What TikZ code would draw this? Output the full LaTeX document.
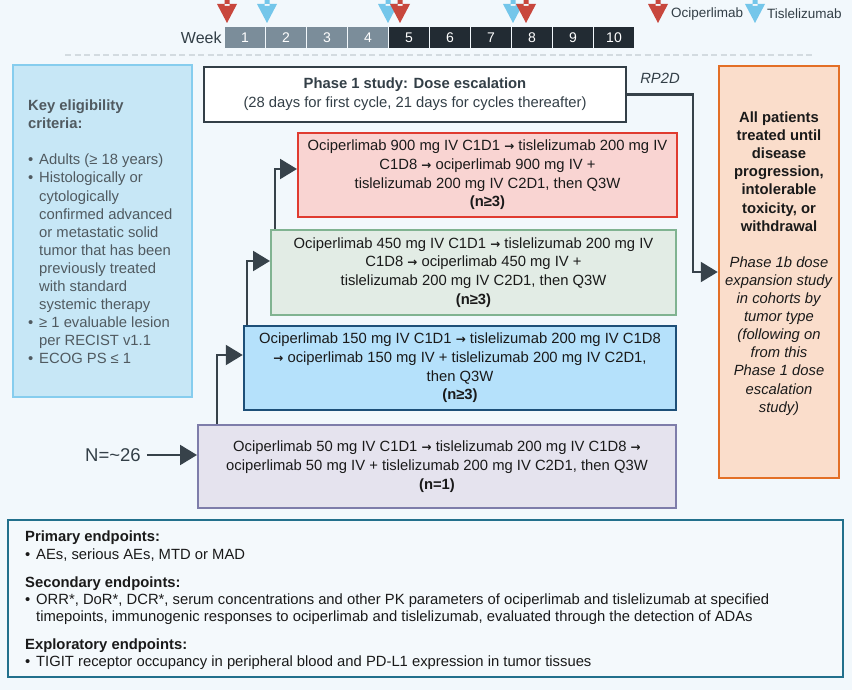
\documentclass[tikz,border=0pt]{standalone}
\usepackage{fontspec}
\setmainfont{Liberation Sans}
\newfontfamily\arrfont{DejaVu Sans}
\usetikzlibrary{arrows.meta}
\definecolor{bgcol}{HTML}{F2F8FC}
\definecolor{txtcol}{HTML}{1A1A1A}
\definecolor{linkcol}{HTML}{37424A}
\definecolor{ocicol}{HTML}{C8473D}
\definecolor{tislcol}{HTML}{74C6EA}
\definecolor{wkpast}{HTML}{7B8D9A}
\definecolor{wknow}{HTML}{222B33}
\definecolor{dashcol}{HTML}{D3DBE0}
\definecolor{critfill}{HTML}{C7E7F6}
\definecolor{critdraw}{HTML}{86CDEE}
\definecolor{crittxt}{HTML}{505A60}
\definecolor{phasecol}{HTML}{333F47}
\definecolor{redfill}{HTML}{F9D4D2}
\definecolor{reddraw}{HTML}{E03B30}
\definecolor{greenfill}{HTML}{E2ECE5}
\definecolor{greendraw}{HTML}{80B391}
\definecolor{bluefill}{HTML}{B5E1FB}
\definecolor{bluedraw}{HTML}{1D4F78}
\definecolor{purpfill}{HTML}{E5E3EE}
\definecolor{purpdraw}{HTML}{7E7DAA}
\definecolor{orgfill}{HTML}{FADDCB}
\definecolor{orgdraw}{HTML}{E36F26}
\definecolor{endpfill}{HTML}{F4F9FC}
\definecolor{endpdraw}{HTML}{22708C}
\newcommand{\bfont}{\fontsize{14.8}{18.7}\selectfont}
\newcommand{\bul}{\makebox[11pt][l]{•}}
\newcommand{\ind}{\hspace*{11pt}}
\newcommand{\ra}{{\arrfont\bfseries\fontsize{12}{12}\selectfont →}}

\begin{document}
\begin{tikzpicture}[x=1pt,y=-1pt]
\tikzstyle{every node}+=[inner sep=0pt, font=\bfont, text=txtcol]
\tikzstyle{dosebox}=[draw, line width=2pt, align=center]
\tikzstyle{week}=[minimum width=40pt, minimum height=21pt, text=white, font=\fontsize{14}{14}\selectfont]
\tikzstyle{link}=[draw=linkcol, line width=2.2pt, -{Triangle[length=17pt,width=20pt]}]
\fill[bgcol] (0,0) rectangle (852,690);
\useasboundingbox (0,0) rectangle (852,690);
% timeline
\foreach \i in {1,...,4}
  \node[week, fill=wkpast] (w\i) at (204+41*\i,37.5) {\i};
\foreach \i in {5,...,10}
  \node[week, fill=wknow] (w\i) at (204+41*\i,37.5) {\i};
\node[anchor=east, text=phasecol, font=\fontsize{16}{16}\selectfont] (wklabel) at ([xshift=-3pt]w1.west) {Week};
\foreach \x in {267,388,513,755}
  \fill[tislcol] (\x-2.5,0) rectangle (\x+2.5,6) (\x-10,4) -- (\x+10,4) -- (\x,23) -- cycle;
\foreach \x in {227,400,526,658}
  \fill[ocicol] (\x-2.5,0) rectangle (\x+2.5,6) (\x-10,4) -- (\x+10,4) -- (\x,23) -- cycle;
\node[anchor=west, text=phasecol, font=\fontsize{13.5}{13.5}\selectfont] (ocileg) at (671,14) {Ociperlimab};
\node[anchor=west, text=phasecol, font=\fontsize{13.5}{13.5}\selectfont] (tisleg) at (767,14) {Tislelizumab};
\draw[dashcol, line width=2pt, dash pattern=on 6pt off 3.5pt] (65,55) -- (815,55);
% eligibility
\node[draw=critdraw, fill=critfill, line width=2.5pt, minimum width=179pt, minimum height=332pt] (crit) at (102.5,231) {};
\node[anchor=west, align=left, text=crittxt, font=\fontsize{14.8}{18.1}\selectfont] (crittext) at (28,232) {%
\textbf{Key eligibility}\\
\textbf{criteria:}\\[18.1pt]
\bul Adults (≥ 18 years)\\
\bul Histologically or\\
\ind cytologically\\
\ind confirmed advanced\\
\ind or metastatic solid\\
\ind tumor that has been\\
\ind previously treated\\
\ind with standard\\
\ind systemic therapy\\
\bul ≥ 1 evaluable lesion\\
\ind per RECIST v1.1\\
\bul ECOG PS ≤ 1};
% dose levels
\node[dosebox, draw=phasecol, fill=white, minimum width=422pt, minimum height=55pt, text=phasecol] (phase) at (415,94.5)
  {\textbf{Phase 1 study: Dose escalation}\\(28 days for first cycle, 21 days for cycles thereafter)};
\node[dosebox, draw=reddraw, fill=redfill, minimum width=379pt, minimum height=84pt] (d900) at (487.5,175)
  {Ociperlimab 900 mg IV C1D1 \ra{} tislelizumab 200 mg IV\\C1D8 \ra{} ociperlimab 900 mg IV +\\tislelizumab 200 mg IV C2D1, then Q3W\\\textbf{(n≥3)}};
\node[dosebox, draw=greendraw, fill=greenfill, minimum width=405pt, minimum height=85pt] (d450) at (473.5,272.5)
  {Ociperlimab 450 mg IV C1D1 \ra{} tislelizumab 200 mg IV\\C1D8 \ra{} ociperlimab 450 mg IV +\\tislelizumab 200 mg IV C2D1, then Q3W\\\textbf{(n≥3)}};
\node[dosebox, draw=bluedraw, fill=bluefill, line width=2.5pt, minimum width=432pt, minimum height=84pt] (d150) at (460,368)
  {Ociperlimab 150 mg IV C1D1 \ra{} tislelizumab 200 mg IV C1D8\\\ra{} ociperlimab 150 mg IV + tislelizumab 200 mg IV C2D1,\\then Q3W\\\textbf{(n≥3)}};
\node[dosebox, draw=purpdraw, fill=purpfill, minimum width=478pt, minimum height=83pt] (d50) at (437,466.5)
  {Ociperlimab 50 mg IV C1D1 \ra{} tislelizumab 200 mg IV C1D8 \ra\\ociperlimab 50 mg IV + tislelizumab 200 mg IV C2D1, then Q3W\\\textbf{(n=1)}};
\node[text=phasecol, font=\fontsize{18.5}{20}\selectfont] (nlabel) at (113,455) {N=\textasciitilde 26};
% expansion
\node[draw=orgdraw, fill=orgfill, line width=2.5pt, minimum width=120pt, minimum height=412pt] (allpt) at (779,272) {};
\node[align=center, font=\fontsize{14.8}{18.1}\selectfont] (alltext) at (779,263.5)
  {\textbf{All patients}\\\textbf{treated until}\\\textbf{disease}\\\textbf{progression,}\\\textbf{intolerable}\\\textbf{toxicity, or}\\\textbf{withdrawal}\\[18.1pt]
   \textit{Phase 1b dose}\\\textit{expansion study}\\\textit{in cohorts by}\\\textit{tumor type}\\\textit{(following on}\\\textit{from this}\\\textit{Phase 1 dose}\\\textit{escalation}\\\textit{study)}};
% connectors
\draw[link] ([xshift=6pt]nlabel.east) -- (nlabel.east -| d50.west);
\draw[link] ([xshift=20pt]d50.north west) |- ([yshift=13pt]d150.west);
\draw[link] ([xshift=4pt]d150.north west) |- ([yshift=11.5pt]d450.west);
\draw[link] ([xshift=5pt]d450.north west) |- ([yshift=6pt]d900.west);
\draw[link] (phase.east) -- node[above=9.5pt, text=phasecol] {\itshape RP2D} ++(66,0) |- (allpt.west);
% endpoints
\node[draw=endpdraw, fill=endpfill, line width=2.5pt, minimum width=835pt, minimum height=157pt] (endp) at (425.5,598.5) {};
\node[anchor=west, align=left, font=\fontsize{14.8}{17.3}\selectfont] (endptext) at (25,600.5) {%
\textbf{Primary endpoints:}\\
\bul AEs, serious AEs, MTD or MAD\\[10.7pt]
\textbf{Secondary endpoints:}\\
\bul ORR*, DoR*, DCR*, serum concentrations and other PK parameters of ociperlimab and tislelizumab at specified\\
\ind timepoints, immunogenic responses to ociperlimab and tislelizumab, evaluated through the detection of ADAs\\[10.7pt]
\textbf{Exploratory endpoints:}\\
\bul TIGIT receptor occupancy in peripheral blood and PD-L1 expression in tumor tissues};
\end{tikzpicture}
\end{document}
